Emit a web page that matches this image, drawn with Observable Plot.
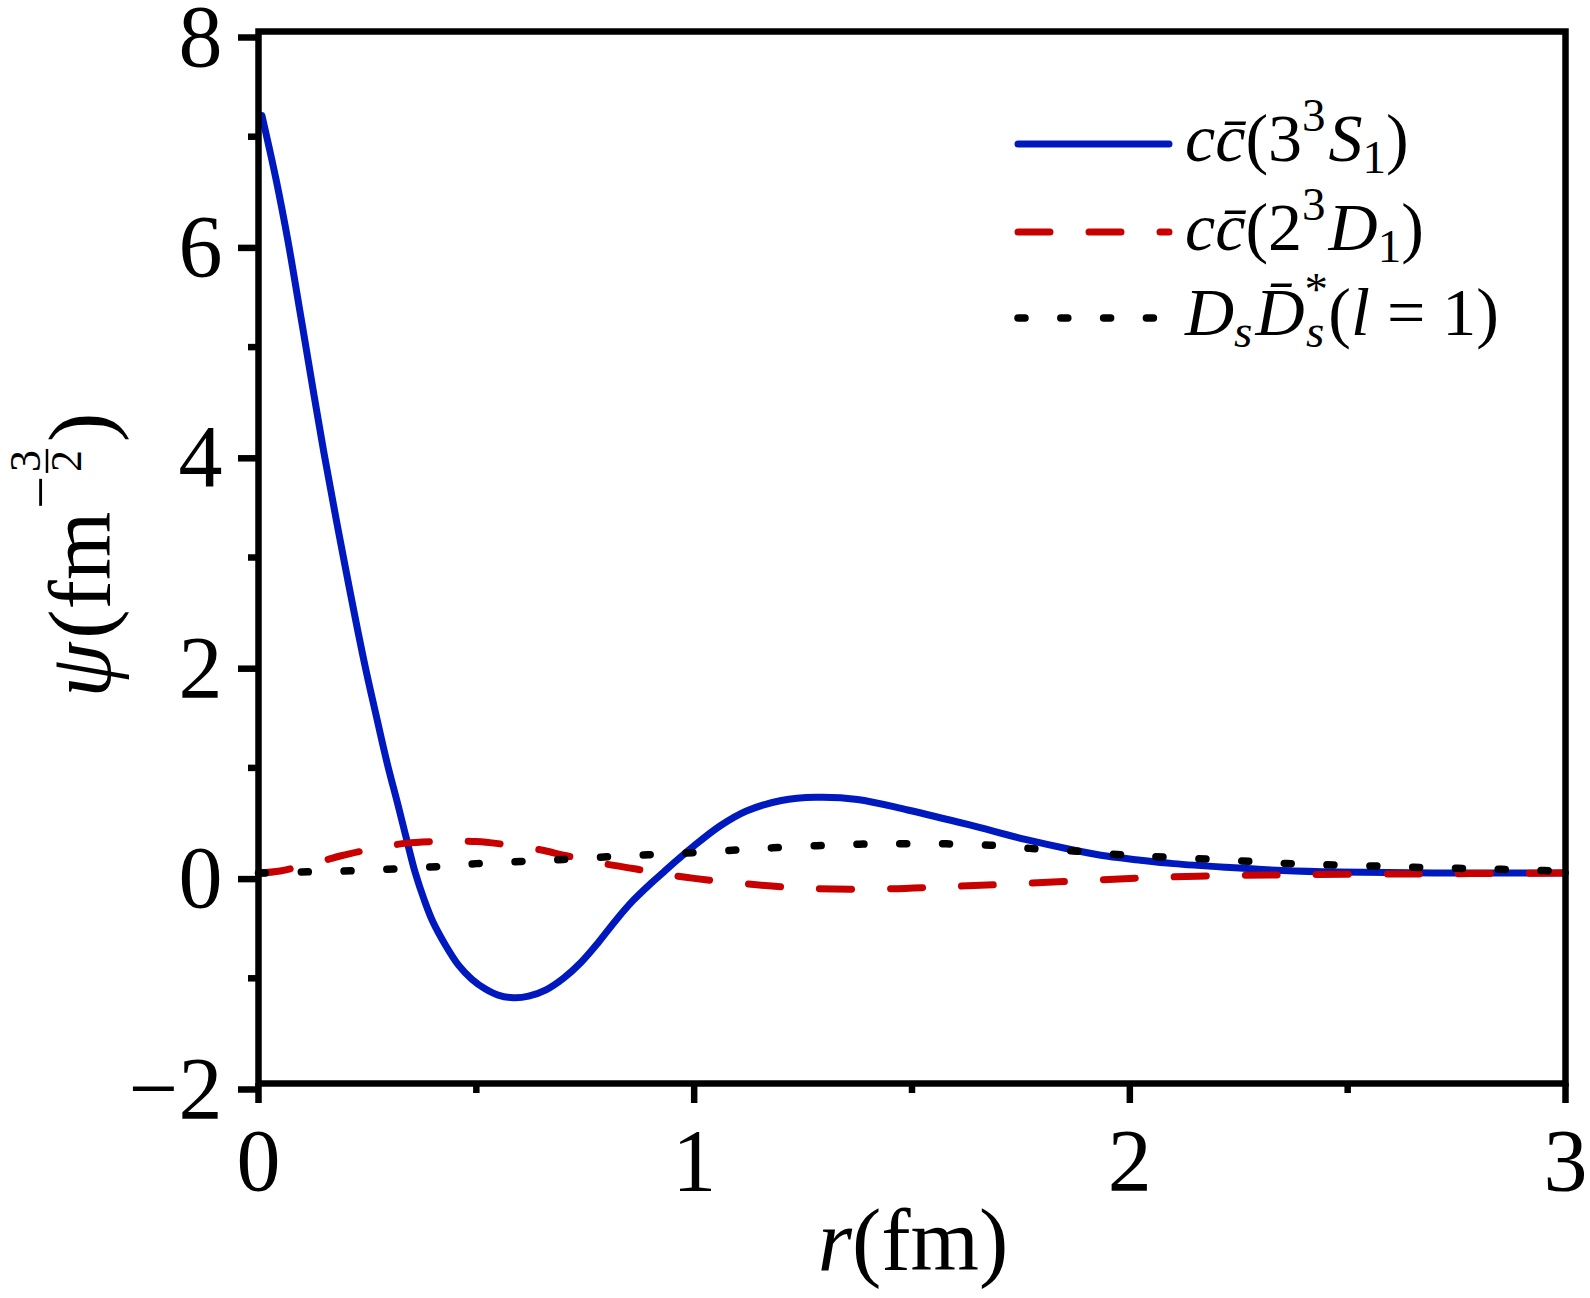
<!DOCTYPE html>
<html><head><meta charset="utf-8">
<script src="https://cdn.jsdelivr.net/npm/d3@7"></script>
<script src="https://cdn.jsdelivr.net/npm/@observablehq/plot@0.6"></script>
<style>html,body{margin:0;padding:0;background:#fff} svg{display:block}</style>
</head><body><div id="chart"></div>
<script>
// c c̄ (3^3 S_1)
const rS   = [0.008, 0.04, 0.068, 0.10, 0.15, 0.195, 0.243, 0.27, 0.295, 0.32, 0.34, 0.36, 0.38, 0.40, 0.43, 0.46, 0.49, 0.52, 0.55, 0.586, 0.62, 0.66, 0.70, 0.74, 0.78, 0.82, 0.86, 0.90, 0.93, 0.96, 1.0, 1.06, 1.12, 1.20, 1.28, 1.375, 1.49, 1.63, 1.76, 1.87, 1.95, 2.02, 2.10, 2.22, 2.35, 2.48, 2.70, 3.0];
const psiS = [7.2, 6.6, 6.0, 5.22, 4.0, 3.0, 2.0, 1.5, 1.05, 0.65, 0.32, 0.0, -0.25, -0.46, -0.69, -0.88, -1.01, -1.1, -1.16, -1.185, -1.17, -1.11, -1.0, -0.85, -0.66, -0.45, -0.26, -0.1, 0.01, 0.12, 0.26, 0.45, 0.59, 0.69, 0.72, 0.70, 0.60, 0.46, 0.32, 0.22, 0.16, 0.125, 0.09, 0.055, 0.025, 0.01, 0.002, 0.0];
// c c̄ (2^3 D_1)
const rD   = [0, 0.05, 0.10, 0.15, 0.19, 0.25, 0.30, 0.34, 0.40, 0.45, 0.50, 0.55, 0.60, 0.655, 0.70, 0.75, 0.80, 0.85, 0.90, 0.94, 1.0, 1.1, 1.26, 1.43, 1.59, 1.75, 1.92, 2.08, 2.25, 2.40, 2.57, 2.73, 2.89, 3.0];
const psiD = [0, 0.02, 0.07, 0.12, 0.165, 0.22, 0.26, 0.285, 0.30, 0.305, 0.30, 0.28, 0.25, 0.215, 0.17, 0.13, 0.085, 0.05, 0.015, -0.015, -0.05, -0.095, -0.145, -0.15, -0.127, -0.10, -0.066, -0.038, -0.022, -0.015, -0.01, -0.006, -0.002, 0];
// D_s D̄_s^* (l = 1)
const rDs   = [0, 0.115, 0.215, 0.315, 0.415, 0.5, 0.6, 0.7, 0.8, 0.9, 1.0, 1.1, 1.18, 1.28, 1.38, 1.48, 1.58, 1.68, 1.77, 1.87, 1.96, 2.04, 2.14, 2.24, 2.33, 2.42, 2.52, 2.62, 2.72, 2.82, 2.92, 3.0];
const psiDs = [0, 0.012, 0.022, 0.04, 0.063, 0.09, 0.11, 0.13, 0.155, 0.175, 0.195, 0.22, 0.24, 0.26, 0.275, 0.28, 0.278, 0.265, 0.235, 0.21, 0.18, 0.16, 0.14, 0.12, 0.097, 0.082, 0.072, 0.06, 0.048, 0.04, 0.027, 0.02];

const xMajor = [0, 1, 2, 3];
const xMinor = [0.5, 1.5, 2.5];
const yMajor = [-2, 0, 2, 4, 6, 8];
const yMinor = [-1, 1, 3, 5, 7];

const FONT = "'Liberation Serif', 'DejaVu Serif', serif";
const BLUE = "#0019bf", RED = "#c80000", BLACK = "#000000";
const styleS  = {stroke: BLUE,  strokeWidth: 7};
const styleD  = {stroke: RED,   strokeWidth: 7, strokeDasharray: "32,39", strokeLinecap: "round"};
const styleDs = {stroke: BLACK, strokeWidth: 7.5, strokeDasharray: "7,35.8", strokeLinecap: "round"};

const rows = (rs, ps) => rs.map((r, i) => ({r, psi: ps[i]}));

const chart = Plot.plot({
  width: 1590, height: 1298,
  marginLeft: 258, marginRight: 25, marginTop: 31, marginBottom: 215,
  style: {fontFamily: FONT, background: "white", color: "black"},
  x: {domain: [0, 3]},
  y: {domain: [-2, 8]},
  marks: [
    Plot.line(rows(rS, psiS), {x: "r", y: "psi", curve: "catmull-rom", ...styleS}),
    Plot.line(rows(rD, psiD), {x: "r", y: "psi", curve: "catmull-rom", ...styleD}),
    Plot.line(rows(rDs, psiDs), {x: "r", y: "psi", curve: "catmull-rom", ...styleDs}),
    Plot.frame({stroke: "black", strokeWidth: 6.5}),
    Plot.axisX({ticks: xMajor, tickSize: 20, tickPadding: 24, strokeWidth: 6.5, fontSize: 88, label: null, tickFormat: d => String(d)}),
    Plot.axisX({ticks: xMinor, tickSize: 10, strokeWidth: 6.5, text: null, label: null}),
    Plot.axisY({ticks: yMajor, tickSize: 20, tickPadding: 16, strokeWidth: 6.5, fontSize: 88, dy: 6, label: null, tickFormat: d => d < 0 ? "\u2212" + Math.abs(d) : String(d)}),
    Plot.axisY({ticks: yMinor, tickSize: 10, strokeWidth: 6.5, text: null, label: null})
  ]
});
document.getElementById("chart").appendChild(chart);
const svg = d3.select(chart);

// x-axis label r(fm)
const xl = svg.append("text").attr("x", 913).attr("y", 1270).attr("text-anchor", "middle")
  .attr("font-family", FONT).attr("font-size", 88).attr("fill", "black");
xl.append("tspan").attr("font-style", "italic").text("r");
xl.append("tspan").text("(fm)");

// y-axis label ψ(fm^{-3/2}) rotated
const gy = svg.append("g").attr("transform", "translate(110,555) rotate(-90)")
  .attr("font-family", FONT).attr("fill", "black").attr("text-anchor", "start");
const inner = gy.append("g");
let cx = 0;
function piece(str, size, italic, y) {
  const t = inner.append("text").attr("x", cx).attr("y", y).attr("font-size", size)
    .attr("text-anchor", "start")
    .attr("font-style", italic ? "italic" : "normal").text(str);
  cx += t.node().getComputedTextLength();
  return t;
}
piece("\u03C8", 88, true, 0);
cx += 4;
piece("(fm", 88, false, 0);
cx += 3;
piece("\u2212", 58, false, -50);
cx += 4;
{
  const t3 = inner.append("text").attr("x", cx).attr("y", -70).attr("font-size", 44).attr("text-anchor", "start").text("3");
  const t2 = inner.append("text").attr("x", cx).attr("y", -29).attr("font-size", 44).attr("text-anchor", "start").text("2");
  const w = Math.max(t3.node().getComputedTextLength(), t2.node().getComputedTextLength());
  inner.append("line").attr("x1", cx - 1).attr("x2", cx + w + 1).attr("y1", -63).attr("y2", -63)
    .attr("stroke", "black").attr("stroke-width", 2.5);
  cx += w + 8;
}
piece(")", 88, false, 0);
inner.attr("transform", `translate(${-cx / 2},0)`);

// legend
const legendItems = [
  {y: 144, style: styleS},
  {y: 232, style: styleD},
  {y: 318, style: styleDs}
];
const lg = svg.append("g").attr("text-anchor", "start");
legendItems.forEach(it => {
  const l = lg.append("line").attr("x1", 1018).attr("x2", 1169).attr("y1", it.y).attr("y2", it.y)
    .attr("stroke", it.style.stroke).attr("stroke-width", it.style.strokeWidth).attr("fill", "none");
  if (it.style.strokeDasharray) l.attr("stroke-dasharray", it.style.strokeDasharray);
  l.attr("stroke-linecap", "round");
});
function legendText(y) {
  return lg.append("text").attr("x", 1185).attr("y", y).attr("font-family", FONT)
    .attr("text-anchor", "start").attr("font-size", 68).attr("fill", "black");
}
// row 1
{
  const t = legendText(161);
  t.append("tspan").attr("font-style", "italic").text("c");
  t.append("tspan").attr("font-style", "italic").text("c\u0304");
  t.append("tspan").text("(3");
  t.append("tspan").attr("font-size", 47).attr("dy", -30).text("3");
  t.append("tspan").attr("font-style", "italic").attr("dy", 30).attr("dx", 3).text("S");
  t.append("tspan").attr("font-size", 47).attr("dy", 12).text("1");
  t.append("tspan").attr("dy", -12).text(")");
}
// row 2
{
  const t = legendText(250);
  t.append("tspan").attr("font-style", "italic").text("c");
  t.append("tspan").attr("font-style", "italic").text("c\u0304");
  t.append("tspan").text("(2");
  t.append("tspan").attr("font-size", 47).attr("dy", -30).text("3");
  t.append("tspan").attr("font-style", "italic").attr("dy", 30).attr("dx", 3).text("D");
  t.append("tspan").attr("font-size", 47).attr("dy", 12).text("1");
  t.append("tspan").attr("dy", -12).text(")");
}
// row 3
{
  const t = legendText(335);
  t.append("tspan").attr("font-style", "italic").text("D");
  t.append("tspan").attr("font-style", "italic").attr("font-size", 47).attr("dy", 12).text("s");
  t.append("tspan").attr("font-style", "italic").attr("dy", -12).attr("dx", 3).text("D\u0304");
  t.append("tspan").attr("font-size", 47).attr("dy", -30).text("*");
  t.append("tspan").attr("font-style", "italic").attr("font-size", 47).attr("dx", -22).attr("dy", 42).text("s");
  t.append("tspan").attr("dy", -12).attr("dx", 4).text("(");
  t.append("tspan").attr("font-style", "italic").text("l");
  t.append("tspan").text(" = 1)");
}
</script>
</body></html>
